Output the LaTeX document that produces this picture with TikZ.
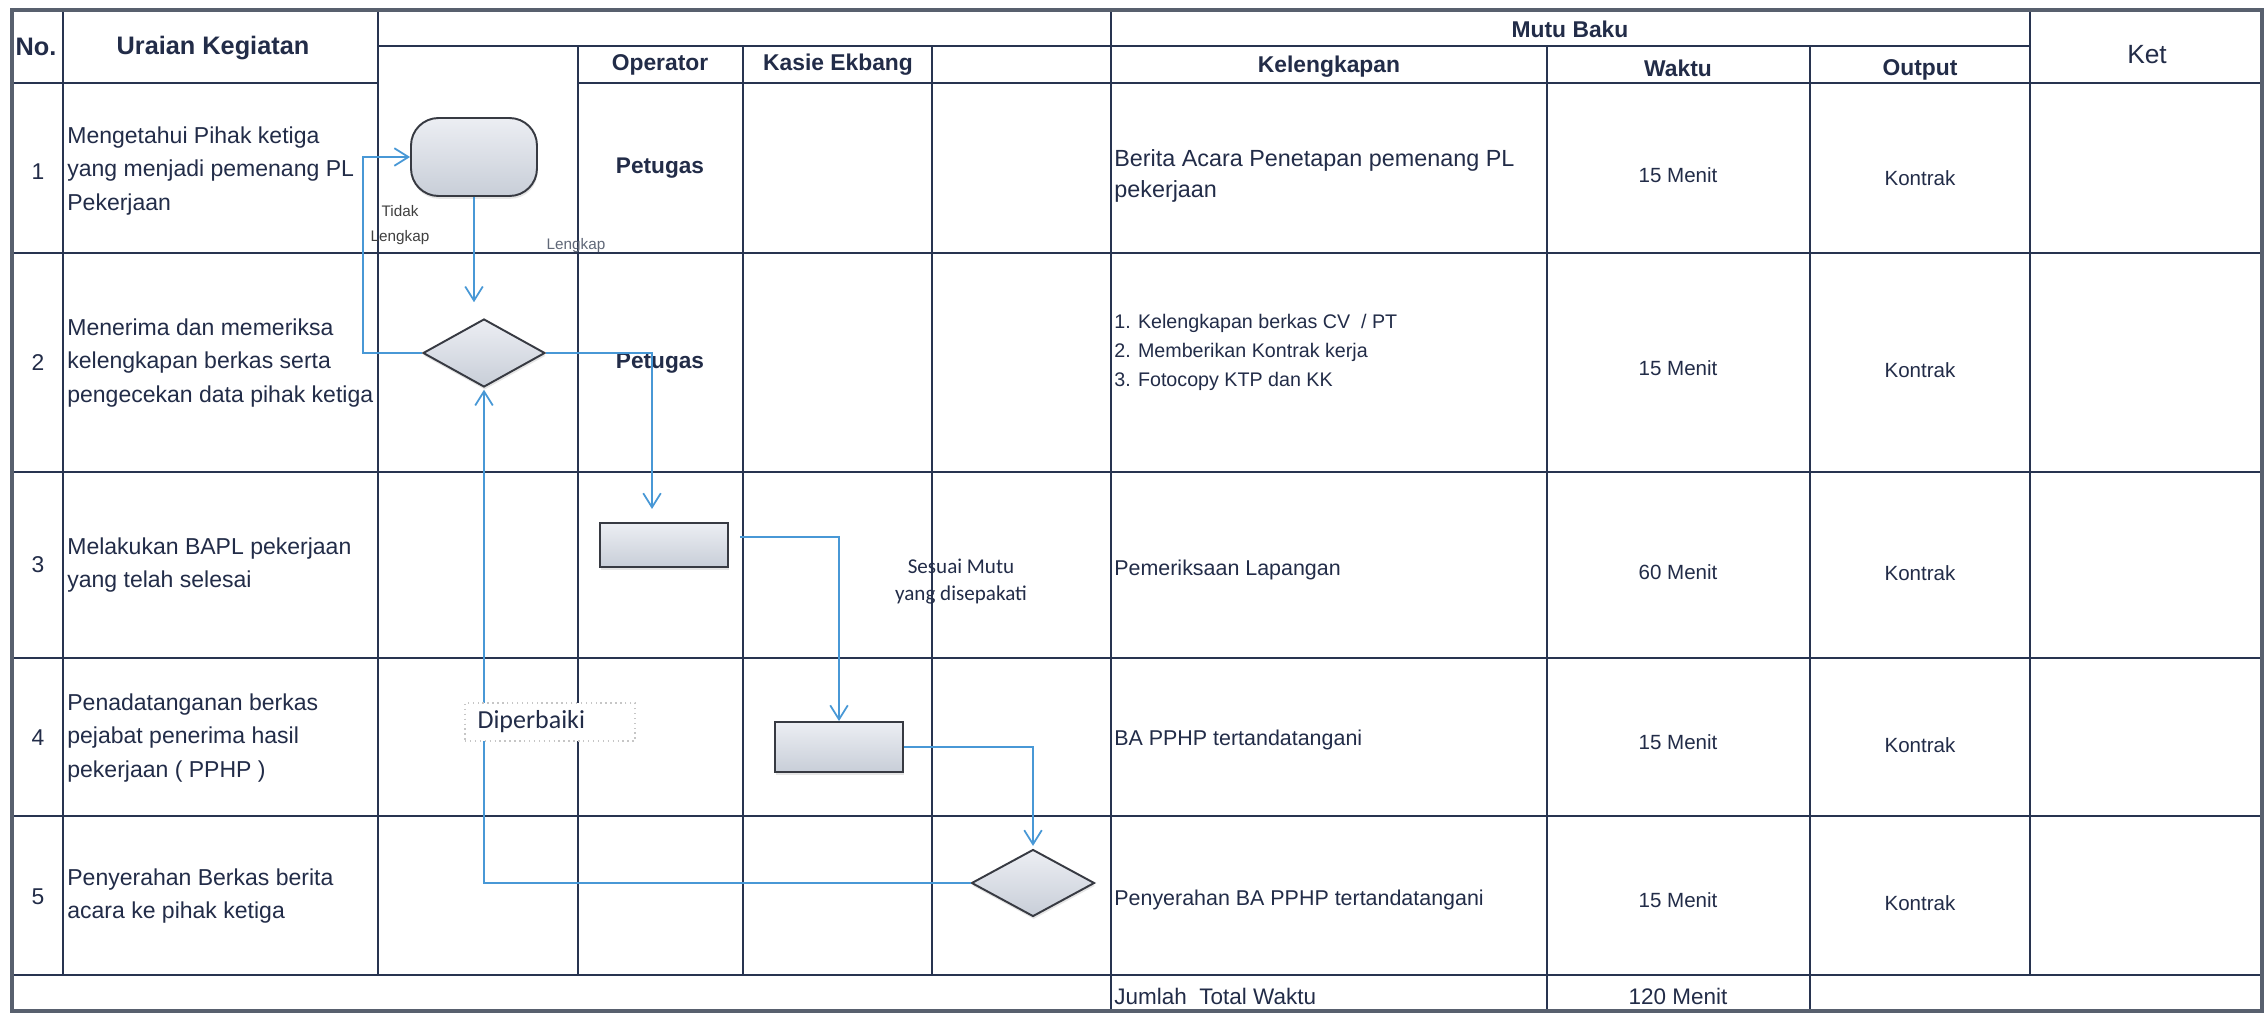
\documentclass[tikz,border=0pt]{standalone}
\usepackage{fontspec}
\setmainfont{Liberation Sans}
\newfontfamily\calibfont{Carlito}
\usetikzlibrary{shapes.geometric,arrows.meta,shadows}
\definecolor{InkNavy}{RGB}{34,44,72}
\definecolor{GridLine}{RGB}{40,52,80}
\definecolor{FrameGray}{RGB}{88,96,110}
\definecolor{FlowBlue}{RGB}{72,152,214}
\definecolor{ShapeTop}{RGB}{236,238,243}
\definecolor{ShapeBot}{RGB}{200,206,216}
\definecolor{ShapeEdge}{RGB}{55,58,66}
\definecolor{NoteGray}{RGB}{96,104,120}

\begin{document}
\begin{tikzpicture}[
  x=0.02cm, y=-0.02cm,
  gridline/.style={GridLine, line width=1.3pt},
  frame/.style={FrameGray, line width=2.4pt},
  head/.style={font=\fontsize{13}{15}\selectfont\bfseries, text=InkNavy, inner sep=0pt},
  bighead/.style={font=\fontsize{14.4}{16}\selectfont\bfseries, text=InkNavy, inner sep=0pt},
  rowno/.style={font=\fontsize{13}{15}\selectfont, text=InkNavy, inner sep=0pt},
  uraian/.style={font=\fontsize{13.1}{19}\selectfont, text=InkNavy, align=left, anchor=west, inner sep=0pt},
  petugas/.style={font=\fontsize{12.9}{15}\selectfont\bfseries, text=InkNavy, inner sep=0pt},
  kelengkapan/.style={font=\fontsize{12.2}{15}\selectfont, text=InkNavy, align=left, anchor=west, inner sep=0pt},
  mutu/.style={font=\fontsize{11.7}{14}\selectfont, text=InkNavy, inner sep=0pt},
  shapebase/.style={draw=ShapeEdge, line width=1.1pt, top color=ShapeTop, bottom color=ShapeBot, inner sep=0pt,
    drop shadow={shadow xshift=0.4pt, shadow yshift=-1.6pt, opacity=0.2}},
  terminal/.style={shapebase, rectangle, rounded corners=0.55cm, minimum width=2.52cm, minimum height=1.56cm},
  process/.style={shapebase, rectangle, minimum width=2.56cm},
  decision/.style={shapebase, diamond, minimum width=2.44cm, minimum height=1.36cm},
  flow/.style={FlowBlue, line width=1pt, -{Straight Barb[length=8pt,width=10pt]}},
  note/.style={font=\fontsize{8.7}{14}\selectfont, align=center, inner sep=0pt},
  fixbox/.style={draw=gray!45, dotted, fill=white, line width=0.8pt, font=\calibfont\fontsize{14.8}{17}\selectfont,
    text=InkNavy, text width=2.9cm, align=left, inner xsep=0.25cm, minimum height=0.76cm}
]

\fill[white] (0,0) rectangle (2267,1017);
\useasboundingbox (0,0) rectangle (2267,1017);

% Row lines
\foreach \y in {253,472,658,816,975} {
  \draw[gridline] (12,\y) -- (2262,\y);
}

% Header lines
\draw[gridline] (378,46) -- (2030,46);
\draw[gridline] (12,83) -- (378,83);
\draw[gridline] (578,83) -- (2262,83);

% Column lines
\foreach \x in {63,378,2030} {
  \draw[gridline] (\x,10) -- (\x,975);
}
\foreach \x in {578,743,932} {
  \draw[gridline] (\x,46) -- (\x,975);
}
\draw[gridline] (1111,10) -- (1111,1011);
\foreach \x in {1547,1810} {
  \draw[gridline] (\x,46) -- (\x,1011);
}

% Outer frame
\draw[frame] (12,10) rectangle (2262,1011);

% Header texts
\node[bighead] (hNo) at (36,47) {No.};
\node[bighead] (hUraian) at (213,48) {Uraian Kegiatan};
\node[head] (hOperator) at (660,65) {Operator};
\node[head] (hKasie) at (838,65) {Kasie Ekbang};
\node[head] (hMutu) at (1570,29) {Mutu Baku};
\node[head] (hKel) at (1329,67) {Kelengkapan};
\node[head] (hWaktu) at (1678,68) {Waktu};
\node[head] (hOutput) at (1920,70) {Output};
\node[font=\fontsize{15}{17}\selectfont, text=InkNavy, inner sep=0pt] (hKet) at (2147,55) {Ket};

% Row numbers
\foreach \n/\y in {1/172,2/363,3/565,4/738,5/897} {
  \node[rowno] (no\n) at (38,\y) {\n};
}

% Uraian kegiatan
\node[uraian] (ur1) at (67,171) {Mengetahui Pihak ketiga\\yang menjadi pemenang PL\\Pekerjaan};
\node[uraian] (ur2) at (67,363) {Menerima dan memeriksa\\kelengkapan berkas serta\\pengecekan data pihak ketiga};
\node[uraian] (ur3) at (67,565) {Melakukan BAPL pekerjaan\\yang telah selesai};
\node[uraian] (ur4) at (67,738) {Penadatanganan berkas\\pejabat penerima hasil\\pekerjaan ( PPHP )};
\node[uraian] (ur5) at (67,896) {Penyerahan Berkas berita\\acara ke pihak ketiga};

% Operator
\node[petugas] (pt1) at (660,168) {Petugas};
\node[petugas] (pt2) at (660,363) {Petugas};

% Kelengkapan
\node[kelengkapan, font=\fontsize{13.3}{17.6}\selectfont] (kl1) at (1114,176) {Berita Acara Penetapan pemenang PL\\pekerjaan};
\node[kelengkapan, font=\fontsize{11.2}{16.5}\selectfont] (kl2) at (1114,352) {1. Kelengkapan berkas CV \ / PT\\2. Memberikan Kontrak kerja\\3. Fotocopy KTP dan KK};
\node[kelengkapan] (kl3) at (1114,570) {Pemeriksaan Lapangan};
\node[kelengkapan] (kl4) at (1114,740) {BA PPHP tertandatangani};
\node[kelengkapan] (kl5) at (1114,900) {Penyerahan BA PPHP tertandatangani};

% Waktu and output
\foreach \n/\y/\m in {1/175/15,2/368/15,3/572/60,4/742/15,5/900/15} {
  \node[mutu] (wk\n) at (1678,\y) {\m\ Menit};
}
\foreach \n/\y in {1/178,2/370,3/573,4/745,5/903} {
  \node[mutu] (op\n) at (1920,\y) {Kontrak};
}

% Total
\node[kelengkapan, font=\fontsize{12.8}{15}\selectfont] (total) at (1114,996) {Jumlah\ \ Total Waktu};
\node[mutu, font=\fontsize{12.8}{15}\selectfont] (totalwk) at (1678,996) {120 Menit};

% Flow shapes
\node[terminal] (term) at (474,157) {};
\node[decision] (d1) at (484,353) {};
\node[process, minimum height=0.88cm] (p1) at (664,545) {};
\node[process, minimum height=1cm] (p2) at (839,747) {};
\node[decision, minimum width=2.46cm, minimum height=1.34cm] (d2) at (1033,883) {};

% Flow connectors
\coordinate (loopL) at (363,157);
\coordinate (p1in) at (652,523);
\coordinate (p1out) at (740,537);
\draw[flow] (d1.west) -| (loopL) -- (term.west);
\draw[flow, shorten >=9pt] (term.south) -- (term.south |- d1.north);
\draw[flow, shorten >=8pt] (d1.east) -| (p1in);
\draw[flow] (p1out) -| (p2.north);
\draw[flow, shorten >=1.5pt] (p2.east) -| (d2.north);
\draw[flow, shorten >=1pt] (d2.west) -| (d1.south);

% Flow labels
\node[note, text=black!75] (lblTidak) at (400,225) {Tidak\\Lengkap};
\node[note, text=NoteGray] (lblLengkap) at (576,246) {Lengkap};
\node[font=\calibfont\fontsize{12}{15.4}\selectfont, text=InkNavy, align=center, inner sep=0pt] (lblSesuai) at (961,582) {Sesuai Mutu\\yang disepakati};
\node[fixbox] (lblFix) at (550,722) {Diperbaiki};

\end{tikzpicture}
\end{document}
